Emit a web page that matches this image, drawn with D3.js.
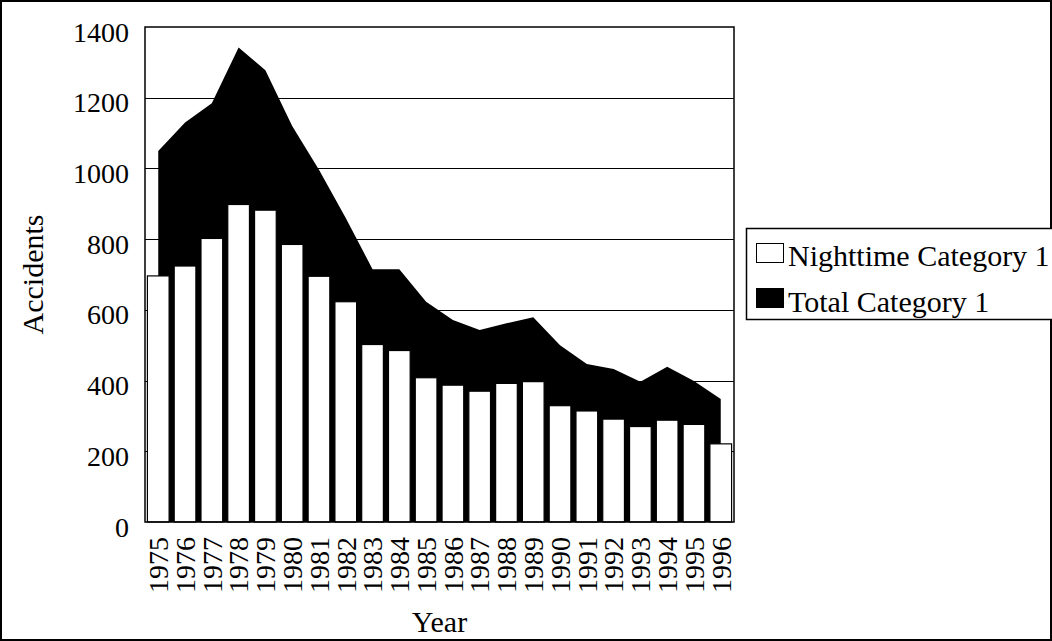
<!DOCTYPE html>
<html>
<head>
<meta charset="utf-8">
<script src="https://cdnjs.cloudflare.com/ajax/libs/d3/7.8.5/d3.min.js"></script>
<style>
  body { margin: 0; background: #fff; }
  text { font-family: "Liberation Serif", "Times New Roman", serif; fill: #000; }
</style>
</head>
<body>
<div id="chart"></div>
<script>
// data
var years = ["1975", "1976", "1977", "1978", "1979", "1980", "1981", "1982", "1983", "1984", "1985",
             "1986", "1987", "1988", "1989", "1990", "1991", "1992", "1993", "1994", "1995", "1996"];
var totalCat1 = [1049, 1130, 1184, 1342, 1278, 1120, 996, 860, 715, 715, 623,
                 571, 543, 562, 579, 500, 447, 433, 397, 439, 399, 348];
var nightCat1 = [696, 724, 802, 898, 882, 785, 695, 623, 502, 485, 408,
                 387, 370, 392, 397, 329, 314, 291, 270, 288, 276, 221];
var yTicks = [0, 200, 400, 600, 800, 1000, 1200, 1400];
var legendLabels = ["Nighttime Category 1", "Total Category 1"];

var W = 1052, H = 641;
var margin = { left: 145, right: 318, top: 27, bottom: 119 };
var width = W - margin.left - margin.right;
var height = H - margin.top - margin.bottom;

var svg = d3.select('#chart')
    .append('svg')
    .attr('width', W)
    .attr('height', H);

// outer frame
svg.append('rect')
    .attr('x', 1).attr('y', 1)
    .attr('width', W - 2).attr('height', H - 2)
    .attr('fill', 'none')
    .attr('stroke', '#000')
    .attr('stroke-width', 2);

var g = svg.append('g')
    .attr("transform", "translate(" + margin.left + "," + margin.top + ")");

var x = d3.scaleBand()
    .domain(years)
    .range([0, width])
    .paddingInner(0.19)
    .paddingOuter(0.09);

var y = d3.scaleLinear()
    .domain([0, 1400])
    .range([height, 0]);

//gridlines
g.selectAll('line.grid')
    .data(yTicks.filter(d => d > 0 && d < 1400))
    .enter()
    .append('line')
    .attr('class', 'grid')
    .attr('x1', 0).attr('x2', width)
    .attr('y1', d => Math.round(y(d)) + 0.5)
    .attr('y2', d => Math.round(y(d)) + 0.5)
    .attr('stroke', '#000')
    .attr('stroke-width', 1);

// total as a black area through the band centres
var pts = years.map((yr, i) => ({ yr: yr, v: totalCat1[i] }));
var area = d3.area()
    .x(d => x(d.yr) + x.bandwidth() / 2)
    .y0(y(0))
    .y1(d => y(d.v));

g.append('path')
    .datum(pts)
    .attr('d', area)
    .attr('fill', '#000');

// nighttime bars
g.selectAll('rect.bar')
    .data(years)
    .enter()
    .append('rect')
    .attr('class', 'bar')
    .attr('x', d => x(d))
    .attr('y', (d, i) => y(nightCat1[i]))
    .attr('width', x.bandwidth())
    .attr('height', (d, i) => y(0) - y(nightCat1[i]))
    .attr('fill', '#fff')
    .attr('stroke', '#000')
    .attr('stroke-width', 1.2);

// plot frame
g.append('rect')
    .attr('x', 0).attr('y', 0)
    .attr('width', width).attr('height', height)
    .attr('fill', 'none')
    .attr('stroke', '#000')
    .attr('stroke-width', 1.5);

// y axis
var yAxis = d3.axisLeft(y).tickValues(yTicks).tickFormat(d3.format("d")).tickSize(0).tickPadding(16);
var gY = g.append('g').call(yAxis);
gY.select('.domain').remove();
gY.selectAll('text')
    .attr('dy', '0.5em')
    .style('font-size', '28px');

// x axis
var xAxis = d3.axisBottom(x).tickSize(0);
var gX = g.append('g')
    .attr('transform', 'translate(0,' + height + ')')
    .call(xAxis);
gX.select('.domain').remove();
gX.selectAll('text')
    .attr('y', 0)
    .attr('x', -15)
    .attr('dy', '0.35em')
    .attr('transform', 'rotate(-90)')
    .attr('text-anchor', 'end')
    .style('font-size', '28px');

// axis titles
svg.append('text')
    .attr('x', margin.left + width / 2)
    .attr('y', 632)
    .attr('text-anchor', 'middle')
    .style('font-size', '30px')
    .text('Year');

svg.append('text')
    .attr('transform', 'translate(43,' + (margin.top + height / 2) + ') rotate(-90)')
    .attr('text-anchor', 'middle')
    .style('font-size', '30px')
    .text('Accidents');

// legend
var leg = svg.append('g').attr('transform', 'translate(746,228)');
leg.append('rect')
    .attr('x', 0.5).attr('y', 0.5)
    .attr('width', 320).attr('height', 91)
    .attr('fill', '#fff')
    .attr('stroke', '#000')
    .attr('stroke-width', 1.5);

var swatchFill = ['#fff', '#000'];
legendLabels.forEach(function (lab, i) {
    leg.append('rect')
        .attr('x', 10.5).attr('y', 15.5 + i * 45)
        .attr('width', 27).attr('height', 19)
        .attr('fill', swatchFill[i])
        .attr('stroke', '#000')
        .attr('stroke-width', 1);
    leg.append('text')
        .attr('x', 42)
        .attr('y', 38 + i * 46)
        .style('font-size', '30px')
        .text(lab);
});
</script>
</body>
</html>
